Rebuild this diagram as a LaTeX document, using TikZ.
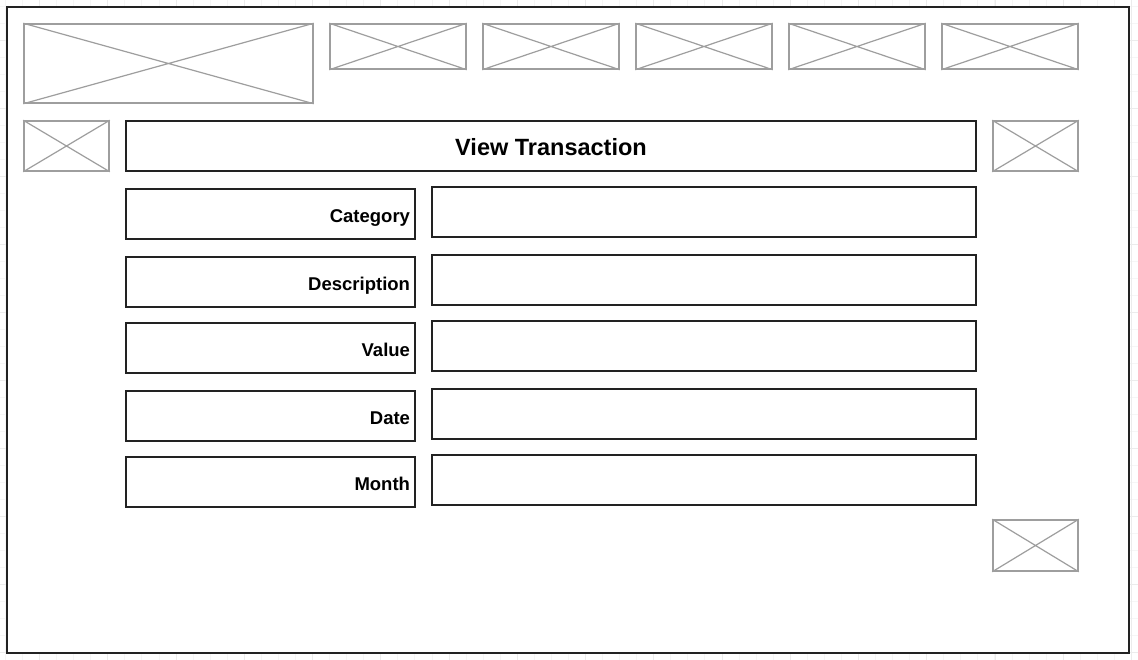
\documentclass[tikz,border=0pt]{standalone}
\usepackage{fontspec}
\setmainfont{Liberation Sans}
\usetikzlibrary{positioning}
\definecolor{imggray}{RGB}{158,158,158}
\definecolor{framegray}{RGB}{34,34,34}
\definecolor{gridminor}{RGB}{246,246,246}
\definecolor{gridmajor}{RGB}{236,236,236}

\tikzset{
  imgbox/.style={draw=imggray, line width=1.5pt, inner sep=0pt},
  imgcross/.style={draw=imggray, line width=1.2pt},
  formbox/.style={draw=framegray, line width=1.6pt, inner sep=0pt, minimum height=50pt},
  labelbox/.style={formbox, text width=279pt, inner xsep=5pt, align=right,
    text height=17.3pt, text depth=0pt,
    font=\fontsize{18.5}{20}\selectfont\bfseries},
  fieldbox/.style={formbox, minimum width=544pt},
}

\begin{document}
\begin{tikzpicture}[x=1pt, y=-1pt]
    \useasboundingbox (0,0) rectangle (1138,660);
    \clip (0,0) rectangle (1138,660);
    % background grid
    \foreach \i in {0,...,67} {
        \draw[gridminor, line width=0.8pt] ({5.4+\i*17.06},0) -- ({5.4+\i*17.06},660);
    }
    \foreach \i in {0,...,39} {
        \draw[gridminor, line width=0.8pt] (0,{6+\i*17}) -- (1138,{6+\i*17});
    }
    \foreach \i in {0,...,16} {
        \draw[gridmajor, line width=0.8pt] ({39.5+\i*68.25},0) -- ({39.5+\i*68.25},660);
    }
    \foreach \i in {0,...,9} {
        \draw[gridmajor, line width=0.8pt] (0,{40+\i*68}) -- (1138,{40+\i*68});
    }
    % page frame
    \node[draw=framegray, fill=white, line width=1.6pt, inner sep=0pt,
          minimum width=1122pt, minimum height=646pt] (page) at (568,330) {};
    % image placeholders
    \node[imgbox, minimum width=289pt, minimum height=79pt] (logo) at (168.5,63.5) {};
    \foreach \n/\x in {1/398, 2/551, 3/704, 4/857, 5/1010} {
        \node[imgbox, minimum width=136pt, minimum height=45pt] (menu\n) at (\x,46.5) {};
    }
    \node[imgbox, minimum width=85pt, minimum height=50pt] (back) at (66.5,146) {};
    \node[imgbox, minimum width=85pt, minimum height=50pt] (edit) at (1035.5,146) {};
    \node[imgbox, minimum width=85pt, minimum height=51pt] (save) at (1035.5,545.5) {};
    \foreach \img in {logo, menu1, menu2, menu3, menu4, menu5, back, edit, save} {
        \draw[imgcross] (\img.north west) -- (\img.south east)
                        (\img.south west) -- (\img.north east);
    }
    % title
    \node[formbox, minimum width=850pt, text height=19.8pt, text depth=0pt,
          font=\fontsize{23.5}{26}\selectfont\bfseries]
        (title) at (551,146) {View Transaction};
    % form rows
    \foreach \name/\y in {Category/214, Description/282, Value/348, Date/416, Month/482} {
        \node[labelbox] (lbl\name) at (270.5,\y) {\name};
        \node[fieldbox] (fld\name) at (704,\y-2) {};
    }
\end{tikzpicture}
\end{document}
